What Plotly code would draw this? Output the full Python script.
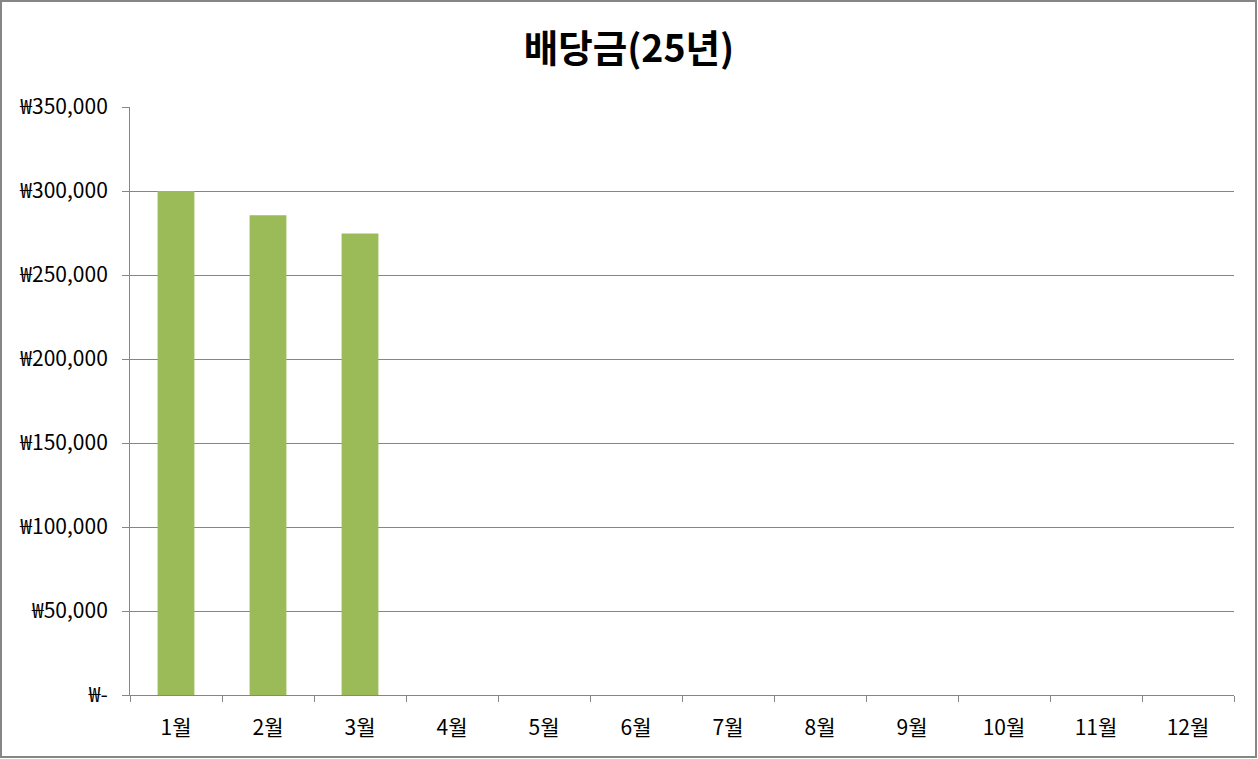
import plotly.graph_objects as go

months = ["1월", "2월", "3월", "4월", "5월", "6월", "7월", "8월", "9월", "10월", "11월", "12월"]
dividends = [300000, 285500, 274700, None, None, None, None, None, None, None, None, None]
y_ticks = [0, 50000, 100000, 150000, 200000, 250000, 300000, 350000]
y_labels = ["₩-", "₩50,000", "₩100,000", "₩150,000", "₩200,000", "₩250,000", "₩300,000", "₩350,000"]

W, H = 1258, 759
L, R, T, B = 130, 24, 107, 64
pw, ph = W - L - R, H - T - B

FONT = "Noto Sans CJK KR, Malgun Gothic, sans-serif"
GRID = "#868686"

fig = go.Figure(
    go.Bar(x=months, y=dividends, marker=dict(color="#9bbb59", line=dict(width=0)))
)

fig.update_layout(
    width=W,
    height=H,
    paper_bgcolor="white",
    plot_bgcolor="white",
    font=dict(family=FONT, color="#000000", size=21),
    margin=dict(l=L, r=R, t=T, b=B, autoexpand=False),
    bargap=0.6,
    showlegend=False,
    title=dict(
        text="<b>배당금(25년)</b>",
        x=0.5,
        xanchor="center",
        y=1 - 49 / H,
        yanchor="middle",
        font=dict(size=37.5, family=FONT, color="#000000"),
    ),
    xaxis=dict(
        type="category",
        tickson="boundaries",
        ticks="outside",
        ticklen=6,
        tickcolor=GRID,
        showline=True,
        linecolor=GRID,
        linewidth=1,
        showgrid=False,
        ticklabelstandoff=14,
    ),
    yaxis=dict(
        range=[0, 350000],
        tickvals=y_ticks,
        ticktext=y_labels,
        ticks="outside",
        ticklen=7,
        tickcolor=GRID,
        showline=True,
        linecolor=GRID,
        linewidth=1,
        showgrid=True,
        gridcolor=GRID,
        gridwidth=1,
        zeroline=False,
        ticklabelstandoff=10,
    ),
)

# chart outline border
fig.add_shape(
    type="rect",
    xref="paper",
    yref="paper",
    x0=(1 - L) / pw,
    x1=(W - 2 - L) / pw,
    y0=-(B - 2) / ph,
    y1=1 + (T - 1) / ph,
    line=dict(color=GRID, width=2),
    layer="above",
)

fig.write_html(
    "out.html",
    config={"displayModeBar": False},
    post_script="document.body.style.margin='0';",
)
